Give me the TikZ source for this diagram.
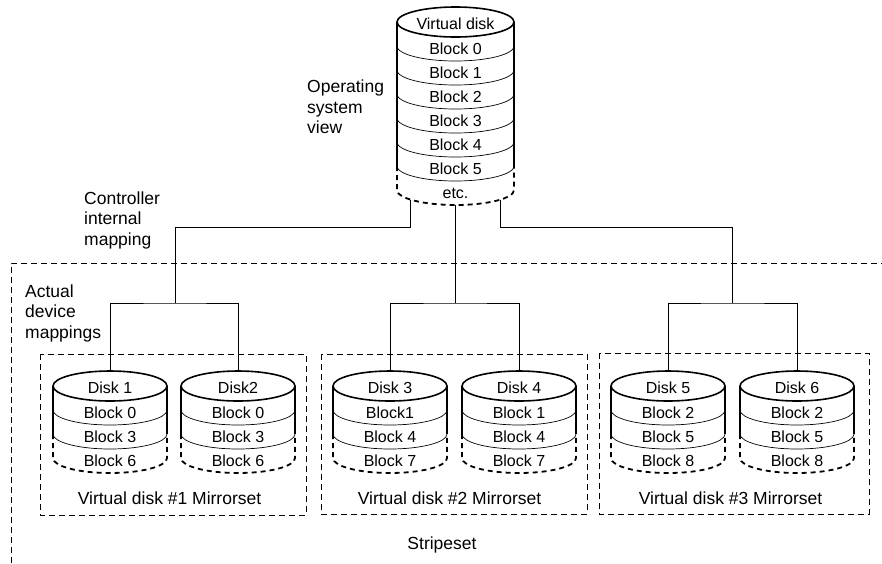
\documentclass[tikz,border=0pt]{standalone}
\usepackage{fontspec}
\setmainfont{Liberation Sans}
\newcommand{\mycyl}[6]{% #1 name, #2 cx, #3 yc0, #4 R, #5 n solid, #6 title
  \begin{scope}[shift={(#2,-#3)}]
    \draw[cylout] (0,0) ellipse [x radius=#4, y radius=15];
    \draw[cylout] (-#4,0) -- (-#4,-24*#5);
    \draw[cylout] (#4,0) -- (#4,-24*#5);
    \foreach \k in {1,...,#5}
      \draw[cylsep] (-#4,-24*\k) arc[start angle=180,end angle=360,x radius=#4,y radius=15];
    \draw[cyldash] (-#4,-24*#5) -- (-#4,-24*#5-24) arc[start angle=180,end angle=360,x radius=#4,y radius=15] -- (#4,-24*#5);
    \node[disklbl] (#1-t) at (0,-2) {#6};
    \coordinate (#1-top) at (0,15);
  \end{scope}}
\begin{document}
\begin{tikzpicture}[x=1pt,y=1pt,
  cylout/.style={line width=1.6pt},
  cylsep/.style={line width=0.7pt},
  cyldash/.style={line width=1.8pt, dash pattern=on 5pt off 4pt},
  conn/.style={line width=0.8pt},
  grp/.style={line width=0.9pt, dash pattern=on 6pt off 4pt},
  disklbl/.style={font=\fontsize{16}{19}\selectfont, inner sep=0pt},
  lbl/.style={font=\fontsize{17.5}{20.5}\selectfont, align=left, inner sep=0pt, anchor=west},
  glbl/.style={font=\fontsize{17.5}{20.5}\selectfont, inner sep=0pt},
]
\useasboundingbox (0,0) rectangle (882,-563);

% groups
\draw[grp] (11,-563) -- (11,-263) -- (882,-263);
\draw[grp] (40,-354) rectangle (306,-515);
\draw[grp] (321,-354) rectangle (587,-514);
\draw[grp] (599,-353) rectangle (869,-514);

% virtual disk
\mycyl{vd}{455.5}{22}{58.5}{6}{Virtual disk}
\node[disklbl] (vb0) at (455.5,-49) {Block 0};
\node[disklbl] (vb1) at (455.5,-73) {Block 1};
\node[disklbl] (vb2) at (455.5,-97) {Block 2};
\node[disklbl] (vb3) at (455.5,-121) {Block 3};
\node[disklbl] (vb4) at (455.5,-145) {Block 4};
\node[disklbl] (vb5) at (455.5,-169) {Block 5};
\node[disklbl] (vbe) at (455.5,-193) {etc.};

% physical disks
\mycyl{d1}{110}{386}{57}{2}{Disk 1}
\node[disklbl] (d1a) at (110,-413) {Block 0};
\node[disklbl] (d1b) at (110,-437) {Block 3};
\node[disklbl] (d1c) at (110,-461) {Block 6};
\mycyl{d2}{238}{386}{57}{2}{Disk2}
\node[disklbl] (d2a) at (238,-413) {Block 0};
\node[disklbl] (d2b) at (238,-437) {Block 3};
\node[disklbl] (d2c) at (238,-461) {Block 6};
\mycyl{d3}{390}{386}{57}{2}{Disk 3}
\node[disklbl] (d3a) at (390,-413) {Block1};
\node[disklbl] (d3b) at (390,-437) {Block 4};
\node[disklbl] (d3c) at (390,-461) {Block 7};
\mycyl{d4}{519}{386}{57}{2}{Disk 4}
\node[disklbl] (d4a) at (519,-413) {Block 1};
\node[disklbl] (d4b) at (519,-437) {Block 4};
\node[disklbl] (d4c) at (519,-461) {Block 7};
\mycyl{d5}{668}{386}{57}{2}{Disk 5}
\node[disklbl] (d5a) at (668,-413) {Block 2};
\node[disklbl] (d5b) at (668,-437) {Block 5};
\node[disklbl] (d5c) at (668,-461) {Block 8};
\mycyl{d6}{797}{386}{57}{2}{Disk 6}
\node[disklbl] (d6a) at (797,-413) {Block 2};
\node[disklbl] (d6b) at (797,-437) {Block 5};
\node[disklbl] (d6c) at (797,-461) {Block 8};

% connectors
\coordinate (vd-l) at (410,-199.5);
\coordinate (vd-c) at (455.5,-205);
\coordinate (vd-r) at (500,-199.5);
\coordinate (h1) at (175.5,-303);
\coordinate (h2) at (455.5,-303);
\coordinate (h3) at (732.5,-303);
\draw[conn] (vd-l) -- ++(0,-27.5) -| (h1);
\draw[conn] (vd-c) -- (h2);
\draw[conn] (vd-r) -- ++(0,-27.5) -| (h3);
\draw[conn] (d1-top) |- (h1) -| (d2-top);
\draw[conn] (d3-top) |- (h2) -| (d4-top);
\draw[conn] (d5-top) |- (h3) -| (d6-top);

% labels
\node[lbl] (osv) at (307,-107) {Operating\\system\\view};
\node[lbl] (cim) at (84,-220) {Controller\\internal\\mapping};
\node[lbl] (adm) at (25,-313) {Actual\\device\\mappings};
\node[glbl] (m1) at (169.5,-498) {Virtual disk \#1 Mirrorset};
\node[glbl] (m2) at (449.5,-498) {Virtual disk \#2 Mirrorset};
\node[glbl] (m3) at (730.5,-498) {Virtual disk \#3 Mirrorset};
\node[glbl] (ss) at (442,-545) {Stripeset};
\end{tikzpicture}
\end{document}
